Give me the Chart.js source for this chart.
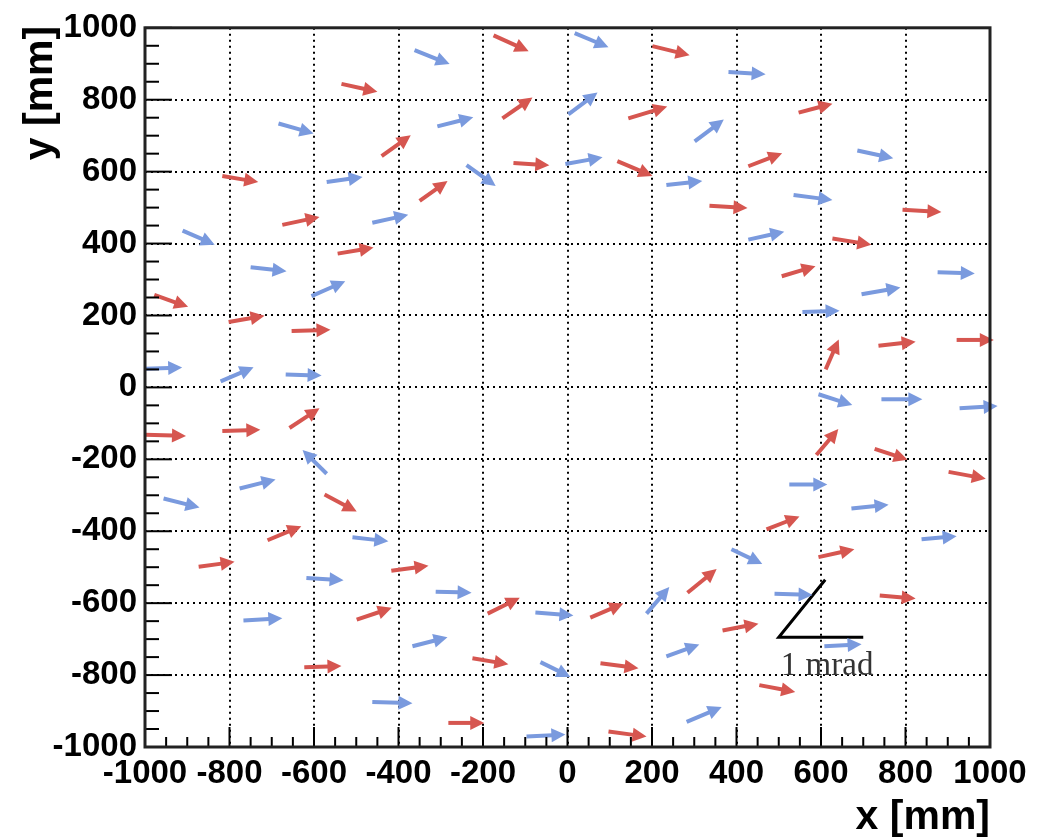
<!DOCTYPE html>
<html>
<head>
<meta charset="utf-8">
<script src="https://cdn.jsdelivr.net/npm/chart.js@4.4.0/dist/chart.umd.min.js"></script>
<style>
  html, body { margin: 0; padding: 0; background: #fff; }
  canvas { display: block; }
</style>
</head>
<body>
<canvas id="chart" width="1040" height="838"></canvas>
<script>
// arrow tails (mm) and arrow components (mm on the chart)
const redX = [-175, 201, -535, -154, 144, 547, -440, -817, -128, 118, 428, -350, 336, 793, -675, -544, 627, 507, -978, -802, -653, 611, 736, 921, -1000, -817, -658, 589, 727, 902, -575, -710, 471, -873, -417, 594, -499, -189, 54, 284, 739, 367, -623, -225, 78, 454, -282, 97];
const redY = [979, 949, 844, 748, 748, 764, 643, 588, 624, 629, 615, 519, 505, 494, 452, 372, 414, 309, 257, 182, 157, 50, 116, 132, -132, -121, -113, -188, -171, -235, -298, -425, -395, -499, -510, -472, -646, -629, -640, -571, -579, -676, -778, -753, -767, -828, -933, -957];
const redU = [83, 88, 85, 71, 92, 80, 69, 85, 85, 83, 80, 66, 90, 92, 88, 85, 92, 80, 80, 85, 92, 31, 88, 88, 97, 90, 71, 52, 78, 88, 76, 80, 78, 85, 88, 85, 83, 76, 78, 69, 85, 85, 88, 85, 90, 85, 85, 90];
const redV = [-44, -25, -22, 58, 33, 25, 58, -17, -6, -41, 36, 55, -6, -6, 22, 17, -17, 28, -33, 17, 3, 83, 11, 0, -3, 3, 55, 72, -30, -19, -47, 39, 36, 14, 14, 22, 33, 44, 39, 66, -8, 19, 3, -17, -14, -19, 0, -14];

const blueX = [-362, 17, 381, -684, -308, 2, 301, 686, -239, -5, -570, 234, 535, -462, -911, 428, -750, 876, -606, 696, 556, -1000, -821, -667, 594, 743, 928, -570, -776, 525, -956, 672, -509, 838, 388, -618, -312, -76, 187, 490, -767, -367, -64, 234, 608, -462, 282, -97];
const blueY = [938, 985, 877, 734, 726, 759, 684, 659, 618, 621, 571, 563, 535, 458, 436, 411, 334, 320, 254, 259, 210, 52, 17, 36, -19, -33, -58, -240, -281, -270, -309, -337, -417, -422, -450, -530, -568, -626, -629, -574, -648, -720, -764, -748, -720, -875, -930, -971];
const blueU = [83, 80, 88, 83, 85, 69, 69, 85, 69, 88, 85, 85, 92, 85, 76, 85, 85, 88, 80, 92, 88, 88, 78, 85, 80, 97, 90, -57, 85, 90, 85, 88, 85, 83, 73, 88, 85, 90, 54, 90, 92, 83, 71, 78, 88, 95, 83, 92];
const blueV = [-39, -39, -6, -28, 25, 61, 61, -22, -58, 19, 14, 11, -14, 22, -39, 22, -11, -3, 41, 19, 3, 3, 39, -3, -30, 0, 6, 66, 25, 0, -25, 11, -11, 8, -41, -6, -3, -8, 74, -3, 6, 25, -41, 33, 6, -3, 41, 6];

// 1 mrad scale marker (mm)
const markX = [700, 500, 610];
const markY = [-695, -695, -535];
const markLabel = '1 mrad';

const AXIS_MIN = -1000;
const AXIS_MAX = 1000;
const MAJOR_STEP = 200;
const MINOR_STEP = 50;

const RED  = 'rgb(214, 86, 80)';
const BLUE = 'rgb(122, 154, 222)';
const SANS = '"Liberation Sans", Arial, Helvetica, sans-serif';

const toPoints = (xs, ys, us, vs) => xs.map((x, i) => ({ x, y: ys[i], u: us[i], v: vs[i] }));

const arrowPlugin = {
  id: 'arrows',
  afterDatasetsDraw(chart) {
    const { ctx, scales: { x, y } } = chart;
    ctx.save();
    chart.data.datasets.forEach(ds => {
      if (!ds.arrows) return;
      ctx.strokeStyle = ds.borderColor;
      ctx.fillStyle   = ds.borderColor;
      ctx.lineWidth   = 4;
      ctx.lineCap     = 'butt';
      ds.data.forEach(p => {
        const x0 = x.getPixelForValue(p.x);
        const y0 = y.getPixelForValue(p.y);
        const x1 = x.getPixelForValue(p.x + p.u);
        const y1 = y.getPixelForValue(p.y + p.v);
        const len = Math.hypot(x1 - x0, y1 - y0);
        const ux = (x1 - x0) / len, uy = (y1 - y0) / len;
        const head = 14, half = 7;
        const bx = x1 - ux * head, by = y1 - uy * head;
        ctx.beginPath();
        ctx.moveTo(x0, y0);
        ctx.lineTo(bx + ux, by + uy);
        ctx.stroke();
        ctx.beginPath();
        ctx.moveTo(x1, y1);
        ctx.lineTo(bx - uy * half, by + ux * half);
        ctx.lineTo(bx + uy * half, by - ux * half);
        ctx.closePath();
        ctx.fill();
      });
    });
    ctx.restore();
  }
};

const framePlugin = {
  id: 'frame',
  afterDraw(chart) {
    const { ctx, chartArea: a, scales: { x, y } } = chart;
    ctx.save();
    ctx.strokeStyle = '#000';
    ctx.lineWidth = 2;
    for (let v = AXIS_MIN; v <= AXIS_MAX; v += MINOR_STEP) {
      const major = v % MAJOR_STEP === 0;
      const py = y.getPixelForValue(v);
      ctx.beginPath();
      ctx.moveTo(a.left, py);
      ctx.lineTo(a.left + (major ? 27 : 14), py);
      ctx.stroke();
      const px = x.getPixelForValue(v);
      ctx.beginPath();
      ctx.moveTo(px, a.bottom);
      ctx.lineTo(px, a.bottom - (major ? 20 : 10));
      ctx.stroke();
    }
    ctx.lineWidth = 3;
    ctx.strokeStyle = '#222';
    ctx.strokeRect(a.left, a.top, a.right - a.left, a.bottom - a.top);

    // scale marker label
    ctx.fillStyle = '#333';
    ctx.font = '33px "Liberation Serif", "Times New Roman", serif';
    ctx.textAlign = 'left';
    ctx.textBaseline = 'alphabetic';
    ctx.fillText(markLabel, x.getPixelForValue(505), y.getPixelForValue(-800));

    // axis titles, right aligned like ROOT
    ctx.fillStyle = '#000';
    ctx.font = 'bold 41px ' + SANS;
    ctx.textAlign = 'right';
    ctx.fillText('x [mm]', a.right, 829);
    ctx.translate(52, a.top - 2);
    ctx.rotate(-Math.PI / 2);
    ctx.fillText('y [mm]', 0, 0);
    ctx.restore();
  }
};

const tickFont = { family: SANS, size: 33, weight: 'bold' };
const plainTick = v => String(v);

new Chart(document.getElementById('chart'), {
  type: 'scatter',
  data: {
    datasets: [
      { label: 'red',  data: toPoints(redX, redY, redU, redV),     borderColor: RED,  pointRadius: 0, arrows: true },
      { label: 'blue', data: toPoints(blueX, blueY, blueU, blueV), borderColor: BLUE, pointRadius: 0, arrows: true },
      {
        label: 'scale',
        type: 'line',
        data: markX.map((x, i) => ({ x, y: markY[i] })),
        borderColor: '#000',
        borderWidth: 3,
        pointRadius: 0,
        fill: false,
        tension: 0,
      },
    ],
  },
  options: {
    animation: false,
    responsive: false,
    layout: { padding: { top: 22, right: 50, left: 0, bottom: 0 } },
    plugins: {
      legend:  { display: false },
      tooltip: { enabled: false },
    },
    scales: {
      x: {
        type: 'linear',
        min: AXIS_MIN,
        max: AXIS_MAX,
        ticks: {
          stepSize: MAJOR_STEP,
          autoSkip: false,
          maxRotation: 0,
          minRotation: 0,
          color: '#000',
          font: tickFont,
          padding: 7,
          callback: plainTick,
        },
        grid:   { color: '#000', lineWidth: 2, drawTicks: false },
        border: { display: false, dash: [2, 4] },
        afterFit(s) { s.height = 91; },
      },
      y: {
        type: 'linear',
        min: AXIS_MIN,
        max: AXIS_MAX,
        ticks: {
          stepSize: MAJOR_STEP,
          autoSkip: false,
          color: '#000',
          font: tickFont,
          padding: 8,
          callback: plainTick,
        },
        grid:   { color: '#000', lineWidth: 2, drawTicks: false },
        border: { display: false, dash: [2, 4] },
        afterFit(s) { s.width = 145; },
      },
    },
  },
  plugins: [arrowPlugin, framePlugin],
});
</script>
</body>
</html>
